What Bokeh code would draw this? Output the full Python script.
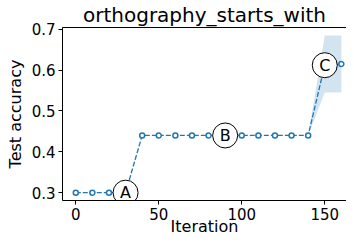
from bokeh.plotting import figure
from bokeh.models import Range1d, FixedTicker, ColumnDataSource, LinearAxis, Title
from bokeh.core.properties import value
from bokeh.embed import file_html
from bokeh.resources import INLINE

title_text = "orthography_starts_with"
iterations = [0, 10, 20, 30, 40, 50, 60, 70, 80, 90, 100, 110, 120, 130, 140, 150, 160]
accuracy = [0.30, 0.30, 0.30, 0.30, 0.44, 0.44, 0.44, 0.44, 0.44, 0.44, 0.44, 0.44, 0.44, 0.44, 0.44, 0.612, 0.615]
lower = [0.30, 0.30, 0.30, 0.30, 0.44, 0.44, 0.44, 0.44, 0.44, 0.44, 0.44, 0.44, 0.44, 0.44, 0.44, 0.545, 0.545]
upper = [0.30, 0.30, 0.30, 0.30, 0.44, 0.44, 0.44, 0.44, 0.44, 0.44, 0.44, 0.44, 0.44, 0.44, 0.44, 0.685, 0.685]
ann_labels = ["A", "B", "C"]
ann_x = [30, 90, 150]
ann_y = [0.30, 0.44, 0.612]
x_ticks = [0, 50, 100, 150]
y_ticks = [0.3, 0.4, 0.5, 0.6, 0.7]
x_label = "Iteration"
y_label = "Test accuracy"

FONT = "DejaVu Sans"
C0 = "#1f77b4"

p = figure(width=346, height=236, output_backend="svg", toolbar_location=None,
           x_range=Range1d(-8, 163.1), y_range=Range1d(0.2808, 0.7043),
           min_border_left=62, min_border_right=0, min_border_top=25, min_border_bottom=36)
p.xgrid.visible = False
p.ygrid.visible = False
p.outline_line_color = None
p.background_fill_color = "white"
p.border_fill_color = "white"

bottom_axis = p.below[0]
left_axis = p.left[0]

p.title.text = title_text
p.title.align = "center"
p.title.text_font = FONT
p.title.text_font_size = "20px"
p.title.text_font_style = "normal"
p.title.text_color = "black"
p.title.standoff = 1
p.title.offset = 4

top_axis = LinearAxis(ticker=FixedTicker(ticks=[]), axis_line_color="black", axis_line_width=1,
                      major_tick_out=0, major_tick_in=0, minor_tick_out=0, minor_tick_in=0,
                      major_label_text_font_size="0px")
p.add_layout(top_axis, "above")

src = ColumnDataSource(dict(x=iterations, y=accuracy, lo=lower, hi=upper))
p.varea(x="x", y1="lo", y2="hi", source=src, fill_color=C0, fill_alpha=0.2)
p.line(x="x", y="y", source=src, line_color=C0, line_width=1.3, line_dash="5 2")
p.scatter(x="x", y="y", source=src, size=5, marker="circle", line_color=C0,
          fill_color="white", line_width=1.5)

asrc = ColumnDataSource(dict(x=ann_x, y=ann_y, t=ann_labels))
p.scatter(x="x", y="y", source=asrc, size=25, marker="circle", fill_color="white",
          line_color="black", line_width=1)
p.text(x="x", y="y", text="t", source=asrc, text_align="center", text_baseline="middle",
       text_font_size="16px", text_font=value(FONT), text_color="black")

for ax in (bottom_axis, left_axis):
    ax.axis_line_color = "black"
    ax.major_tick_line_color = "black"
    ax.minor_tick_line_color = None
    ax.major_tick_in = 0
    ax.major_tick_out = 4
    ax.major_label_standoff = 3
    ax.major_label_text_font = FONT
    ax.major_label_text_font_size = "15px"
    ax.major_label_text_color = "black"
    ax.axis_label_text_font = FONT
    ax.axis_label_text_font_size = "16px"
    ax.axis_label_text_font_style = "normal"
    ax.axis_label_text_color = "black"

left_axis.axis_label_standoff = 4
bottom_axis.ticker = FixedTicker(ticks=x_ticks)
left_axis.ticker = FixedTicker(ticks=y_ticks)
left_axis.axis_label = y_label

xlab = Title(text=x_label, align="center", text_font=FONT, text_font_size="16px",
             text_font_style="normal", text_color="black", standoff=-15, offset=4)
p.add_layout(xlab, "below")

open("out.html", "w").write(file_html(p, INLINE))
